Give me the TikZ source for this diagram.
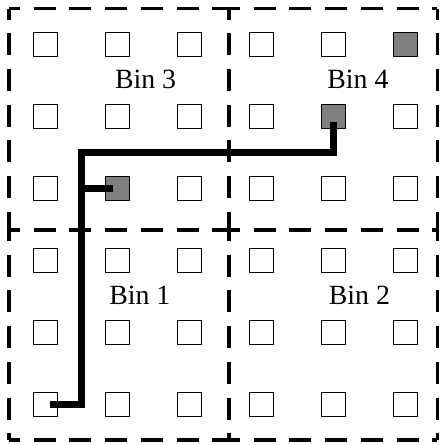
\documentclass[tikz,border=0pt]{standalone}
\usepackage{fontspec}
\setmainfont{Liberation Serif}
\tikzset{
  cell/.style={draw,line width=0.5pt,minimum size=0.335cm,inner sep=0pt,outer sep=0pt},
  full/.style={cell,fill=gray},
  binline/.style={line width=1.3pt,dash pattern=on 0.306cm off 0.19cm,dash phase=0.153cm},
  route/.style={line width=3.1pt},
  binlabel/.style={font=\fontsize{11}{13}\selectfont,inner sep=0pt}
}
\begin{document}
\begin{tikzpicture}
\useasboundingbox (-0.632,-0.5625) rectangle (5.521,5.618);
\coordinate (bl) at (-0.507,-0.493);
\coordinate (bm) at (2.549,-0.493);
\coordinate (br) at (5.444,-0.493);
\coordinate (ml) at (-0.507,2.424);
\coordinate (mm) at (2.549,2.424);
\coordinate (mr) at (5.444,2.424);
\coordinate (tl) at (-0.507,5.5);
\coordinate (tm) at (2.549,5.5);
\coordinate (tr) at (5.444,5.5);
\foreach \a/\b in {tl/tm,tm/tr,ml/mm,mm/mr,bl/bm,bm/br,tl/ml,ml/bl,tm/mm,mm/bm,tr/mr,mr/br}
  \draw[binline] (\a) -- (\b);
\foreach \i in {0,...,5}
  \foreach \j in {0,...,5}
    \node[cell] (s\i\j) at (\i,\j) {};
\foreach \s in {55,44,13}
  \node[full] (g\s) at (s\s) {};
\node[binlabel] (bin1) at (1.31,1.52) {Bin 1};
\node[binlabel] (bin2) at (4.36,1.52) {Bin 2};
\node[binlabel] (bin3) at (1.39,4.51) {Bin 3};
\node[binlabel] (bin4) at (4.34,4.51) {Bin 4};
\coordinate (turn) at (0.5,3.5);
\draw[route] ([xshift=0.065cm]s00.center) -| (turn) -| ([yshift=-0.072cm]g44.center);
\draw[route] (turn |- g13) -- ([xshift=-0.065cm]g13.center);
\end{tikzpicture}
\end{document}
